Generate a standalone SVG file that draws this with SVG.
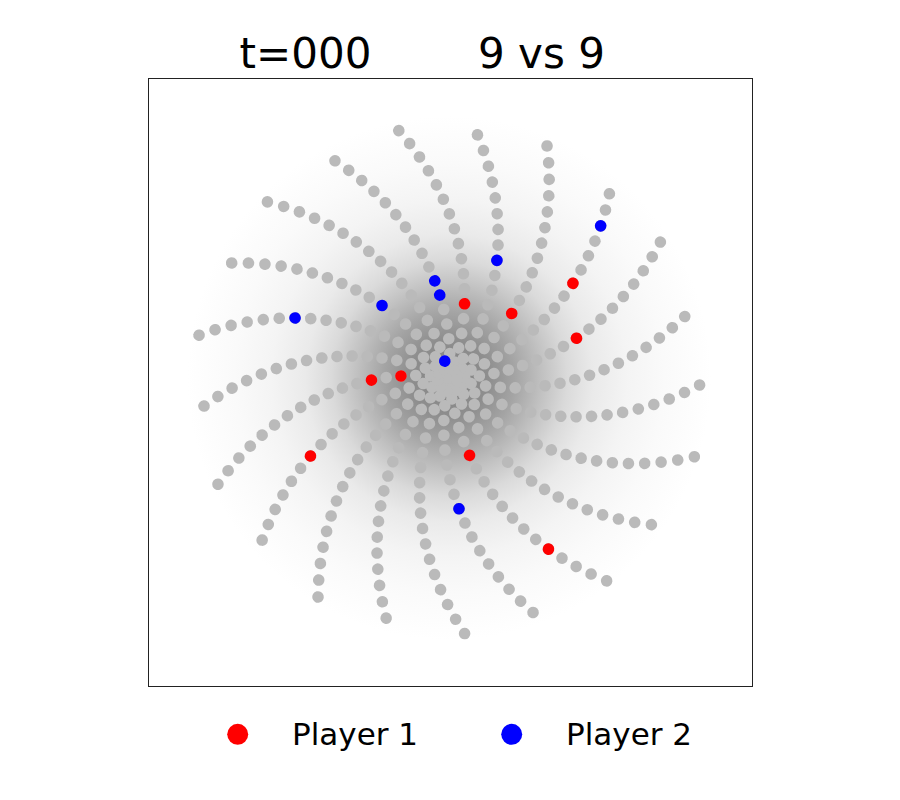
<svg xmlns="http://www.w3.org/2000/svg" width="900" height="800" viewBox="0 0 900 800">
<style>
text{font-family:"DejaVu Sans","Liberation Sans",sans-serif;fill:#000}
#nodes circle{r:5.8px;fill:#bababa}
#nodes circle.p1{fill:#ff0000}
#nodes circle.p2{fill:#0000ff}
</style>
<defs>
<radialGradient id="haze" cx="0.5" cy="0.5" r="0.5">
<stop offset="0" stop-color="#828282"/>
<stop offset="0.15" stop-color="#8e8e8e"/>
<stop offset="0.25" stop-color="#a4a4a4"/>
<stop offset="0.35" stop-color="#c0c0c0"/>
<stop offset="0.45" stop-color="#dadada"/>
<stop offset="0.55" stop-color="#eaeaea"/>
<stop offset="0.68" stop-color="#f4f4f4"/>
<stop offset="0.82" stop-color="#fafafa"/>
<stop offset="1" stop-color="#ffffff"/>
</radialGradient>
</defs>
<rect width="900" height="800" fill="#fff"/>
<text x="305.5" y="68" font-size="42" text-anchor="middle">t=000</text>
<text x="541.5" y="68" font-size="42" text-anchor="middle">9 vs 9</text>
<rect x="148.5" y="78.5" width="604" height="608" fill="none" stroke="#222" stroke-width="1"/>
<g id="edges">
<circle cx="449.3" cy="378" r="262" fill="url(#haze)"/>
</g>
<g id="nodes" transform="translate(449.3 378)">
<g id="arm0" transform="rotate(17.82)">
<circle cx="257.40"/><circle transform="rotate(1.927)" cx="242.67"/><circle transform="rotate(3.854)" cx="227.94"/><circle transform="rotate(5.781)" cx="213.21"/><circle transform="rotate(7.707)" cx="198.49"/><circle transform="rotate(9.634)" cx="183.76"/><circle transform="rotate(11.561)" cx="169.03"/><circle transform="rotate(13.488)" cx="154.30"/><circle transform="rotate(15.415)" cx="139.57"/><circle transform="rotate(17.342)" cx="124.84"/><circle transform="rotate(19.269)" cx="110.11"/><circle transform="rotate(21.196)" cx="95.39"/><circle transform="rotate(23.122)" cx="80.66"/><circle transform="rotate(25.049)" cx="65.93"/><circle transform="rotate(26.976)" cx="51.20"/><circle transform="rotate(28.903)" cx="36.47"/><circle transform="rotate(30.830)" cx="21.74"/><circle transform="rotate(32.757)" cx="7.01"/>
</g>
<g id="arm1" transform="rotate(52.197)">
<circle cx="256.70"/><circle transform="rotate(1.927)" cx="241.97"/><circle transform="rotate(3.854)" cx="227.24"/><circle transform="rotate(5.781)" cx="212.51"/><circle transform="rotate(7.707)" cx="197.79"/><circle transform="rotate(9.634)" cx="183.06"/><circle transform="rotate(11.561)" cx="168.33"/><circle transform="rotate(13.488)" cx="153.60"/><circle transform="rotate(15.415)" cx="138.87"/><circle transform="rotate(17.342)" cx="124.14"/><circle transform="rotate(19.269)" cx="109.41"/><circle transform="rotate(21.196)" cx="94.69"/><circle transform="rotate(23.122)" cx="79.96"/><circle transform="rotate(25.049)" cx="65.23"/><circle transform="rotate(26.976)" cx="50.50"/><circle transform="rotate(28.903)" cx="35.77"/><circle transform="rotate(30.830)" cx="21.04"/><circle transform="rotate(32.757)" cx="6.31"/>
</g>
<g id="arm2" transform="rotate(86.575)">
<circle cx="256.00"/><circle transform="rotate(1.927)" cx="241.27"/><circle transform="rotate(3.854)" cx="226.54"/><circle transform="rotate(5.781)" cx="211.81"/><circle transform="rotate(7.707)" cx="197.09"/><circle transform="rotate(9.634)" cx="182.36"/><circle transform="rotate(11.561)" cx="167.63"/><circle transform="rotate(13.488)" cx="152.90"/><circle transform="rotate(15.415)" cx="138.17"/><circle transform="rotate(17.342)" cx="123.44"/><circle transform="rotate(19.269)" cx="108.71"/><circle transform="rotate(21.196)" cx="93.99"/><circle transform="rotate(23.122)" cx="79.26"/><circle transform="rotate(25.049)" cx="64.53"/><circle transform="rotate(26.976)" cx="49.80"/><circle transform="rotate(28.903)" cx="35.07"/><circle transform="rotate(30.830)" cx="20.34"/><circle transform="rotate(32.757)" cx="5.61"/>
</g>
<g id="arm3" transform="rotate(120.952)">
<circle cx="255.30"/><circle transform="rotate(1.927)" cx="240.57"/><circle transform="rotate(3.854)" cx="225.84"/><circle transform="rotate(5.781)" cx="211.11"/><circle transform="rotate(7.707)" cx="196.39"/><circle transform="rotate(9.634)" cx="181.66"/><circle transform="rotate(11.561)" cx="166.93"/><circle transform="rotate(13.488)" cx="152.20"/><circle transform="rotate(15.415)" cx="137.47"/><circle transform="rotate(17.342)" cx="122.74"/><circle transform="rotate(19.269)" cx="108.01"/><circle transform="rotate(21.196)" cx="93.29"/><circle transform="rotate(23.122)" cx="78.56"/><circle transform="rotate(25.049)" cx="63.83"/><circle transform="rotate(26.976)" cx="49.10"/><circle transform="rotate(28.903)" cx="34.37"/><circle transform="rotate(30.830)" cx="19.64"/><circle transform="rotate(32.757)" cx="4.91"/>
</g>
<g id="arm4" transform="rotate(155.330)">
<circle cx="254.59"/><circle transform="rotate(1.927)" cx="239.86"/><circle transform="rotate(3.854)" cx="225.13"/><circle transform="rotate(5.781)" cx="210.40"/><circle transform="rotate(7.707)" cx="195.68"/><circle transform="rotate(9.634)" cx="180.95"/><circle transform="rotate(11.561)" cx="166.22"/><circle transform="rotate(13.488)" cx="151.49"/><circle transform="rotate(15.415)" cx="136.76"/><circle transform="rotate(17.342)" cx="122.03"/><circle transform="rotate(19.269)" cx="107.30"/><circle transform="rotate(21.196)" cx="92.58"/><circle transform="rotate(23.122)" cx="77.85"/><circle transform="rotate(25.049)" cx="63.12"/><circle transform="rotate(26.976)" cx="48.39"/><circle transform="rotate(28.903)" cx="33.66"/><circle transform="rotate(30.830)" cx="18.93"/><circle transform="rotate(32.757)" cx="4.20"/>
</g>
<g id="arm5" transform="rotate(189.707)">
<circle cx="253.89"/><circle transform="rotate(1.927)" cx="239.16"/><circle transform="rotate(3.854)" cx="224.43"/><circle transform="rotate(5.781)" cx="209.70"/><circle transform="rotate(7.707)" cx="194.98"/><circle transform="rotate(9.634)" cx="180.25"/><circle transform="rotate(11.561)" cx="165.52"/><circle transform="rotate(13.488)" cx="150.79"/><circle transform="rotate(15.415)" cx="136.06"/><circle transform="rotate(17.342)" cx="121.33"/><circle transform="rotate(19.269)" cx="106.60"/><circle transform="rotate(21.196)" cx="91.88"/><circle transform="rotate(23.122)" cx="77.15"/><circle transform="rotate(25.049)" cx="62.42"/><circle transform="rotate(26.976)" cx="47.69"/><circle transform="rotate(28.903)" cx="32.96"/><circle transform="rotate(30.830)" cx="18.23"/><circle transform="rotate(32.757)" cx="3.50"/>
</g>
<g id="arm6" transform="rotate(224.085)">
<circle cx="253.19"/><circle transform="rotate(1.927)" cx="238.46"/><circle transform="rotate(3.854)" cx="223.73"/><circle transform="rotate(5.781)" cx="209.00"/><circle transform="rotate(7.707)" cx="194.28"/><circle transform="rotate(9.634)" cx="179.55"/><circle transform="rotate(11.561)" cx="164.82"/><circle transform="rotate(13.488)" cx="150.09"/><circle transform="rotate(15.415)" cx="135.36"/><circle transform="rotate(17.342)" cx="120.63"/><circle transform="rotate(19.269)" cx="105.90"/><circle transform="rotate(21.196)" cx="91.18"/><circle transform="rotate(23.122)" cx="76.45"/><circle transform="rotate(25.049)" cx="61.72"/><circle transform="rotate(26.976)" cx="46.99"/><circle transform="rotate(28.903)" cx="32.26"/><circle transform="rotate(30.830)" cx="17.53"/><circle transform="rotate(32.757)" cx="2.80"/>
</g>
<g id="arm7" transform="rotate(258.462)">
<circle cx="252.49"/><circle transform="rotate(1.927)" cx="237.76"/><circle transform="rotate(3.854)" cx="223.03"/><circle transform="rotate(5.781)" cx="208.30"/><circle transform="rotate(7.707)" cx="193.58"/><circle transform="rotate(9.634)" cx="178.85"/><circle transform="rotate(11.561)" cx="164.12"/><circle transform="rotate(13.488)" cx="149.39"/><circle transform="rotate(15.415)" cx="134.66"/><circle transform="rotate(17.342)" cx="119.93"/><circle transform="rotate(19.269)" cx="105.20"/><circle transform="rotate(21.196)" cx="90.48"/><circle transform="rotate(23.122)" cx="75.75"/><circle transform="rotate(25.049)" cx="61.02"/><circle transform="rotate(26.976)" cx="46.29"/><circle transform="rotate(28.903)" cx="31.56"/><circle transform="rotate(30.830)" cx="16.83"/><circle transform="rotate(32.757)" cx="2.10"/>
</g>
<g id="arm8" transform="rotate(292.840)">
<circle cx="251.79"/><circle transform="rotate(1.927)" cx="237.06"/><circle transform="rotate(3.854)" cx="222.33"/><circle transform="rotate(5.781)" cx="207.60"/><circle transform="rotate(7.707)" cx="192.88"/><circle transform="rotate(9.634)" cx="178.15"/><circle transform="rotate(11.561)" cx="163.42"/><circle transform="rotate(13.488)" cx="148.69"/><circle transform="rotate(15.415)" cx="133.96"/><circle transform="rotate(17.342)" cx="119.23"/><circle transform="rotate(19.269)" cx="104.50"/><circle transform="rotate(21.196)" cx="89.78"/><circle transform="rotate(23.122)" cx="75.05"/><circle transform="rotate(25.049)" cx="60.32"/><circle transform="rotate(26.976)" cx="45.59"/><circle transform="rotate(28.903)" cx="30.86"/><circle transform="rotate(30.830)" cx="16.13"/><circle transform="rotate(32.757)" cx="1.40"/>
</g>
<g id="arm9" transform="rotate(327.217)">
<circle cx="251.09"/><circle transform="rotate(1.927)" cx="236.36"/><circle transform="rotate(3.854)" cx="221.63"/><circle transform="rotate(5.781)" cx="206.90"/><circle transform="rotate(7.707)" cx="192.18"/><circle transform="rotate(9.634)" cx="177.45"/><circle transform="rotate(11.561)" cx="162.72"/><circle transform="rotate(13.488)" cx="147.99"/><circle transform="rotate(15.415)" cx="133.26"/><circle transform="rotate(17.342)" cx="118.53"/><circle transform="rotate(19.269)" cx="103.80"/><circle transform="rotate(21.196)" cx="89.08"/><circle transform="rotate(23.122)" cx="74.35"/><circle transform="rotate(25.049)" cx="59.62"/><circle transform="rotate(26.976)" cx="44.89"/><circle transform="rotate(28.903)" cx="30.16"/><circle transform="rotate(30.830)" cx="15.43"/><circle transform="rotate(32.757)" cx="0.70"/>
</g>
<g id="arm10" transform="rotate(1.595)">
<circle cx="250.39"/><circle transform="rotate(1.927)" cx="235.66"/><circle transform="rotate(3.854)" cx="220.93"/><circle transform="rotate(5.781)" cx="206.20"/><circle transform="rotate(7.707)" cx="191.48"/><circle transform="rotate(9.634)" cx="176.75"/><circle transform="rotate(11.561)" cx="162.02"/><circle transform="rotate(13.488)" cx="147.29"/><circle transform="rotate(15.415)" cx="132.56"/><circle transform="rotate(17.342)" cx="117.83"/><circle transform="rotate(19.269)" cx="103.10"/><circle transform="rotate(21.196)" cx="88.38"/><circle transform="rotate(23.122)" cx="73.65"/><circle transform="rotate(25.049)" cx="58.92"/><circle transform="rotate(26.976)" cx="44.19"/><circle transform="rotate(28.903)" cx="29.46"/><circle transform="rotate(30.830)" cx="14.73"/><circle cx="0"/>
</g>
<g id="arm11" transform="rotate(35.972)">
<circle cx="249.69"/><circle transform="rotate(1.927)" cx="234.96"/><circle transform="rotate(3.854)" cx="220.23"/><circle transform="rotate(5.781)" cx="205.50"/><circle transform="rotate(7.707)" cx="190.78"/><circle transform="rotate(9.634)" cx="176.05"/><circle transform="rotate(11.561)" cx="161.32"/><circle transform="rotate(13.488)" cx="146.59"/><circle transform="rotate(15.415)" cx="131.86"/><circle transform="rotate(17.342)" cx="117.13"/><circle transform="rotate(19.269)" cx="102.40"/><circle transform="rotate(21.196)" cx="87.68"/><circle transform="rotate(23.122)" cx="72.95"/><circle transform="rotate(25.049)" cx="58.22"/><circle transform="rotate(26.976)" cx="43.49"/><circle transform="rotate(28.903)" cx="28.76"/><circle transform="rotate(30.830)" cx="14.03"/>
</g>
<g id="arm12" transform="rotate(70.350)">
<circle cx="248.98"/><circle transform="rotate(1.927)" cx="234.25"/><circle transform="rotate(3.854)" cx="219.52"/><circle transform="rotate(5.781)" cx="204.79"/><circle transform="rotate(7.707)" cx="190.07"/><circle transform="rotate(9.634)" cx="175.34"/><circle transform="rotate(11.561)" cx="160.61"/><circle transform="rotate(13.488)" cx="145.88"/><circle transform="rotate(15.415)" cx="131.15"/><circle transform="rotate(17.342)" cx="116.42"/><circle transform="rotate(19.269)" cx="101.69"/><circle transform="rotate(21.196)" cx="86.97"/><circle transform="rotate(23.122)" cx="72.24"/><circle transform="rotate(25.049)" cx="57.51"/><circle transform="rotate(26.976)" cx="42.78"/><circle transform="rotate(28.903)" cx="28.05"/><circle transform="rotate(30.830)" cx="13.32"/>
</g>
<g id="arm13" transform="rotate(104.727)">
<circle cx="248.28"/><circle transform="rotate(1.927)" cx="233.55"/><circle transform="rotate(3.854)" cx="218.82"/><circle transform="rotate(5.781)" cx="204.09"/><circle transform="rotate(7.707)" cx="189.37"/><circle transform="rotate(9.634)" cx="174.64"/><circle transform="rotate(11.561)" cx="159.91"/><circle transform="rotate(13.488)" cx="145.18"/><circle transform="rotate(15.415)" cx="130.45"/><circle transform="rotate(17.342)" cx="115.72"/><circle transform="rotate(19.269)" cx="100.99"/><circle transform="rotate(21.196)" cx="86.27"/><circle transform="rotate(23.122)" cx="71.54"/><circle transform="rotate(25.049)" cx="56.81"/><circle transform="rotate(26.976)" cx="42.08"/><circle transform="rotate(28.903)" cx="27.35"/><circle transform="rotate(30.830)" cx="12.62"/>
</g>
<g id="arm14" transform="rotate(139.105)">
<circle cx="247.58"/><circle transform="rotate(1.927)" cx="232.85"/><circle transform="rotate(3.854)" cx="218.12"/><circle transform="rotate(5.781)" cx="203.39"/><circle transform="rotate(7.707)" cx="188.67"/><circle transform="rotate(9.634)" cx="173.94"/><circle transform="rotate(11.561)" cx="159.21"/><circle transform="rotate(13.488)" cx="144.48"/><circle transform="rotate(15.415)" cx="129.75"/><circle transform="rotate(17.342)" cx="115.02"/><circle transform="rotate(19.269)" cx="100.29"/><circle transform="rotate(21.196)" cx="85.57"/><circle transform="rotate(23.122)" cx="70.84"/><circle transform="rotate(25.049)" cx="56.11"/><circle transform="rotate(26.976)" cx="41.38"/><circle transform="rotate(28.903)" cx="26.65"/><circle transform="rotate(30.830)" cx="11.92"/>
</g>
<g id="arm15" transform="rotate(173.482)">
<circle cx="246.88"/><circle transform="rotate(1.927)" cx="232.15"/><circle transform="rotate(3.854)" cx="217.42"/><circle transform="rotate(5.781)" cx="202.69"/><circle transform="rotate(7.707)" cx="187.97"/><circle transform="rotate(9.634)" cx="173.24"/><circle transform="rotate(11.561)" cx="158.51"/><circle transform="rotate(13.488)" cx="143.78"/><circle transform="rotate(15.415)" cx="129.05"/><circle transform="rotate(17.342)" cx="114.32"/><circle transform="rotate(19.269)" cx="99.59"/><circle transform="rotate(21.196)" cx="84.87"/><circle transform="rotate(23.122)" cx="70.14"/><circle transform="rotate(25.049)" cx="55.41"/><circle transform="rotate(26.976)" cx="40.68"/><circle transform="rotate(28.903)" cx="25.95"/><circle transform="rotate(30.830)" cx="11.22"/>
</g>
<g id="arm16" transform="rotate(207.859)">
<circle cx="246.18"/><circle transform="rotate(1.927)" cx="231.45"/><circle transform="rotate(3.854)" cx="216.72"/><circle transform="rotate(5.781)" cx="201.99"/><circle transform="rotate(7.707)" cx="187.27"/><circle transform="rotate(9.634)" cx="172.54"/><circle transform="rotate(11.561)" cx="157.81"/><circle transform="rotate(13.488)" cx="143.08"/><circle transform="rotate(15.415)" cx="128.35"/><circle transform="rotate(17.342)" cx="113.62"/><circle transform="rotate(19.269)" cx="98.89"/><circle transform="rotate(21.196)" cx="84.17"/><circle transform="rotate(23.122)" cx="69.44"/><circle transform="rotate(25.049)" cx="54.71"/><circle transform="rotate(26.976)" cx="39.98"/><circle transform="rotate(28.903)" cx="25.25"/><circle transform="rotate(30.830)" cx="10.52"/>
</g>
<g id="arm17" transform="rotate(242.237)">
<circle cx="245.48"/><circle transform="rotate(1.927)" cx="230.75"/><circle transform="rotate(3.854)" cx="216.02"/><circle transform="rotate(5.781)" cx="201.29"/><circle transform="rotate(7.707)" cx="186.57"/><circle transform="rotate(9.634)" cx="171.84"/><circle transform="rotate(11.561)" cx="157.11"/><circle transform="rotate(13.488)" cx="142.38"/><circle transform="rotate(15.415)" cx="127.65"/><circle transform="rotate(17.342)" cx="112.92"/><circle transform="rotate(19.269)" cx="98.19"/><circle transform="rotate(21.196)" cx="83.47"/><circle transform="rotate(23.122)" cx="68.74"/><circle transform="rotate(25.049)" cx="54.01"/><circle transform="rotate(26.976)" cx="39.28"/><circle transform="rotate(28.903)" cx="24.55"/><circle transform="rotate(30.830)" cx="9.82"/>
</g>
<g id="arm18" transform="rotate(276.614)">
<circle cx="244.78"/><circle transform="rotate(1.927)" cx="230.05"/><circle transform="rotate(3.854)" cx="215.32"/><circle transform="rotate(5.781)" cx="200.59"/><circle transform="rotate(7.707)" cx="185.87"/><circle transform="rotate(9.634)" cx="171.14"/><circle transform="rotate(11.561)" cx="156.41"/><circle transform="rotate(13.488)" cx="141.68"/><circle transform="rotate(15.415)" cx="126.95"/><circle transform="rotate(17.342)" cx="112.22"/><circle transform="rotate(19.269)" cx="97.49"/><circle transform="rotate(21.196)" cx="82.77"/><circle transform="rotate(23.122)" cx="68.04"/><circle transform="rotate(25.049)" cx="53.31"/><circle transform="rotate(26.976)" cx="38.58"/><circle transform="rotate(28.903)" cx="23.85"/><circle transform="rotate(30.830)" cx="9.12"/>
</g>
<g id="arm19" transform="rotate(310.992)">
<circle cx="244.07"/><circle transform="rotate(1.927)" cx="229.34"/><circle transform="rotate(3.854)" cx="214.61"/><circle transform="rotate(5.781)" cx="199.88"/><circle transform="rotate(7.707)" cx="185.16"/><circle transform="rotate(9.634)" cx="170.43"/><circle transform="rotate(11.561)" cx="155.70"/><circle transform="rotate(13.488)" cx="140.97"/><circle transform="rotate(15.415)" cx="126.24"/><circle transform="rotate(17.342)" cx="111.51"/><circle transform="rotate(19.269)" cx="96.78"/><circle transform="rotate(21.196)" cx="82.06"/><circle transform="rotate(23.122)" cx="67.33"/><circle transform="rotate(25.049)" cx="52.60"/><circle transform="rotate(26.976)" cx="37.87"/><circle transform="rotate(28.903)" cx="23.14"/><circle transform="rotate(30.830)" cx="8.41"/>
</g>
<g id="arm20" transform="rotate(345.369)">
<circle cx="243.37"/><circle transform="rotate(1.927)" cx="228.64"/><circle transform="rotate(3.854)" cx="213.91"/><circle transform="rotate(5.781)" cx="199.18"/><circle transform="rotate(7.707)" cx="184.46"/><circle transform="rotate(9.634)" cx="169.73"/><circle transform="rotate(11.561)" cx="155.00"/><circle transform="rotate(13.488)" cx="140.27"/><circle transform="rotate(15.415)" cx="125.54"/><circle transform="rotate(17.342)" cx="110.81"/><circle transform="rotate(19.269)" cx="96.08"/><circle transform="rotate(21.196)" cx="81.36"/><circle transform="rotate(23.122)" cx="66.63"/><circle transform="rotate(25.049)" cx="51.90"/><circle transform="rotate(26.976)" cx="37.17"/><circle transform="rotate(28.903)" cx="22.44"/><circle transform="rotate(30.830)" cx="7.71"/>
</g>
<g id="player1-nodes">
<circle class="p1" transform="rotate(281.584)" cx="75.75"/>
<circle class="p1" transform="rotate(314.036)" cx="89.78"/>
<circle class="p1" transform="rotate(322.553)" cx="155.70"/>
<circle class="p1" transform="rotate(342.632)" cx="133.26"/>
<circle class="p1" transform="rotate(178.452)" cx="77.85"/>
<circle class="p1" transform="rotate(182.306)" cx="48.39"/>
<circle class="p1" transform="rotate(150.666)" cx="159.21"/>
<circle class="p1" transform="rotate(75.319)" cx="79.96"/>
<circle class="p1" transform="rotate(59.904)" cx="197.79"/>
</g>
<g id="player2-nodes">
<circle class="p2" transform="rotate(314.846)" cx="214.61"/>
<circle class="p2" transform="rotate(292.029)" cx="126.95"/>
<circle class="p2" transform="rotate(261.506)" cx="98.19"/>
<circle class="p2" transform="rotate(263.433)" cx="83.47"/>
<circle class="p2" transform="rotate(227.128)" cx="98.89"/>
<circle class="p2" transform="rotate(201.268)" cx="165.52"/>
<circle class="p2" transform="rotate(254.915)" cx="17.53"/>
<circle class="p2" transform="rotate(85.765)" cx="131.15"/>
</g>
</g>
<g id="legend">
<circle cx="237.7" cy="734.3" r="10.5" fill="#ff0000"/>
<text x="292" y="744.5" font-size="31">Player 1</text>
<circle cx="511.7" cy="734.3" r="10.5" fill="#0000ff"/>
<text x="566" y="744.5" font-size="31">Player 2</text>
</g>
</svg>
